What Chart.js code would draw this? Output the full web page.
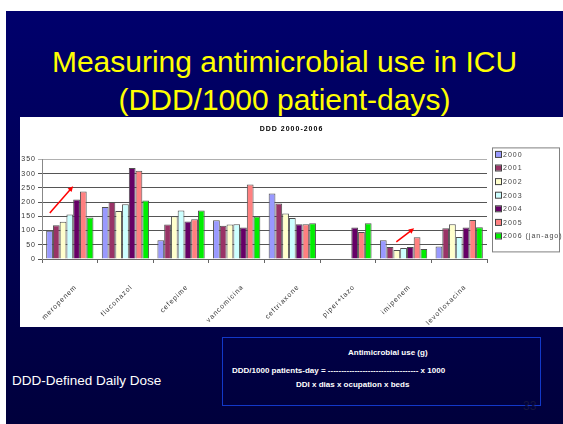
<!DOCTYPE html>
<html>
<head>
<meta charset="utf-8">
<script src="https://cdn.jsdelivr.net/npm/chart.js@4.4.0/dist/chart.umd.min.js"></script>
<style>
  body { margin: 0; width: 563px; height: 424px; background: #fff; overflow: hidden; position: relative; font-family: "Liberation Sans", Arial, sans-serif; }
  .slide { position: absolute; left: 6px; top: 11px; width: 557px; height: 413px; background: linear-gradient(#00006c, #00003c); }
  .title { position: absolute; left: 6px; width: 557px; text-align: center; color: #ffff00; font-size: 30px; line-height: 38px; }
  .panel { position: absolute; left: 20px; top: 117px; width: 543px; height: 210px; background: #fff; }
  .note { position: absolute; left: 12px; top: 373px; color: #fff; font-size: 13.5px; }
  .box { position: absolute; left: 222px; top: 337px; width: 317px; height: 67px; border: 1.5px solid #1238c8; color: #fff; font-weight: bold; font-size: 8px; }
  .box div { position: absolute; white-space: nowrap; }
  .page { position: absolute; left: 523px; top: 399px; color: #16163e; font-size: 12px; }
</style>
</head>
<body>
<div class="slide"></div>
<div class="title" style="top:43px">Measuring antimicrobial use in ICU<br>(DDD/1000 patient-days)</div>
<div class="panel"><canvas id="c"></canvas></div>
<div class="note">DDD-Defined Daily Dose</div>
<div class="box">
  <div style="left:125px; top:10px">Antimicrobial use (g)</div>
  <div style="left:9px; top:28px">DDD/1000 patients-day = ---------------------------------- x 1000</div>
  <div style="left:73px; top:42px">DDI x dias x ocupation x beds</div>
</div>
<div class="page">33</div>
<script>
const drugs = ['meropenem', 'fluconazol', 'cefepime', 'vancomicina', 'ceftriaxone', 'piper+tazo', 'imipenem', 'levofloxacina'];
const years = ['2000', '2001', '2002', '2003', '2004', '2005', '2006 (jan-ago)'];
const colors = ['#9999ff', '#993366', '#ffffcc', '#ccffff', '#660066', '#ff8080', '#00ee00'];

const v2000 = [99, 183, 66, 136, 230, null, 66, 44];
const v2001 = [119, 200, 121, 117, 195, null, 42, 108];
const v2002 = [131, 169, 150, 121, 160, null, 32, 122];
const v2003 = [156, 192, 170, 122, 144, null, 39, 77];
const v2004 = [209, 320, 132, 111, 122, 111, 42, 111];
const v2005 = [237, 310, 140, 262, 122, 95, 76, 137];
const v2006 = [146, 206, 170, 149, 126, 126, 35, 112];
const series = [v2000, v2001, v2002, v2003, v2004, v2005, v2006];

const yTicks = [0, 50, 100, 150, 200, 250, 300, 350];

// red arrows: category index, [offset in categories, value] start and end
const arrowCat = [0, 6];
const arrowFrom = [[-0.36, 162], [-0.13, 60]];
const arrowTo = [[0.06, 256], [0.19, 108]];

const spacing = {
  id: 'spacing',
  beforeDraw(chart) { chart.ctx.letterSpacing = '1px'; }
};

const arrows = {
  id: 'arrows',
  afterDatasetsDraw(chart) {
    const ctx = chart.ctx, xs = chart.scales.x, ys = chart.scales.y;
    const w = xs.width / drugs.length;
    ctx.save();
    ctx.strokeStyle = '#ff0000';
    ctx.fillStyle = '#ff0000';
    ctx.lineWidth = 1.5;
    arrowCat.forEach((c, i) => {
      const cx = xs.getPixelForValue(c);
      const x0 = cx + arrowFrom[i][0] * w, y0 = ys.getPixelForValue(arrowFrom[i][1]);
      const x1 = cx + arrowTo[i][0] * w, y1 = ys.getPixelForValue(arrowTo[i][1]);
      const a = Math.atan2(y1 - y0, x1 - x0);
      ctx.beginPath();
      ctx.moveTo(x0, y0);
      ctx.lineTo(x1 - 3 * Math.cos(a), y1 - 3 * Math.sin(a));
      ctx.stroke();
      ctx.beginPath();
      ctx.moveTo(x1, y1);
      ctx.lineTo(x1 - 6 * Math.cos(a - 0.45), y1 - 6 * Math.sin(a - 0.45));
      ctx.lineTo(x1 - 6 * Math.cos(a + 0.45), y1 - 6 * Math.sin(a + 0.45));
      ctx.closePath();
      ctx.fill();
    });
    ctx.restore();
  }
};

// framed legend in the right margin, built from the datasets
const sideLegend = {
  id: 'sideLegend',
  afterDraw(chart) {
    const ctx = chart.ctx;
    const left = chart.chartArea.right + 5;
    const top = chart.chartArea.top - 12;
    ctx.save();
    ctx.letterSpacing = '1px';
    ctx.strokeStyle = '#808080';
    ctx.lineWidth = 1;
    ctx.strokeRect(left + 0.5, top + 0.5, 67, 104);
    ctx.font = '7px "Liberation Sans"';
    ctx.textBaseline = 'middle';
    chart.data.datasets.forEach((ds, i) => {
      const y = top + 7 + i * 13.6;
      ctx.fillStyle = ds.backgroundColor;
      ctx.fillRect(left + 4, y - 2.5, 5, 5);
      ctx.strokeStyle = '#404040';
      ctx.strokeRect(left + 3.5, y - 3, 6, 6);
      ctx.fillStyle = '#444';
      ctx.fillText(ds.label, left + 11, y + 0.5);
    });
    ctx.restore();
  }
};

new Chart(document.getElementById('c'), {
  type: 'bar',
  data: {
    labels: drugs,
    datasets: series.map((d, i) => ({
      label: years[i],
      data: d,
      backgroundColor: colors[i],
      borderColor: '#505050',
      borderWidth: 1,
      barPercentage: 1,
      categoryPercentage: 0.85
    }))
  },
  options: {
    responsive: true,
    maintainAspectRatio: false,
    animation: false,
    plugins: {
      title: {
        display: true,
        text: 'DDD 2000-2006',
        color: '#000',
        font: { family: 'Liberation Sans', size: 7, weight: 'bold' },
        padding: { top: 8, bottom: 26 }
      },
      legend: { display: false },
      tooltip: { enabled: false }
    },
    scales: {
      x: {
        grid: { drawOnChartArea: false, drawTicks: true, tickLength: 4, color: '#666' },
        border: { color: '#666' },
        ticks: {
          color: '#333',
          font: { family: 'Liberation Sans', size: 7 },
          minRotation: 45,
          maxRotation: 45,
          padding: 20,
          labelOffset: 6
        },
        afterFit(scale) { scale.height = 68; }
      },
      y: {
        min: 0,
        max: 350,
        afterBuildTicks(scale) { scale.ticks = yTicks.map(v => ({ value: v })); },
        grid: {
          color: c => c.tick && c.tick.value === 350 ? '#b0b0b0' : '#555',
          tickLength: 4
        },
        border: { color: '#888' },
        ticks: {
          color: '#333',
          font: { family: 'Liberation Sans', size: 7 },
          padding: 2
        },
        afterFit(scale) { scale.width = 22; }
      },
      // empty right axis that keeps room for the legend
      side: {
        position: 'right',
        grid: { display: false },
        border: { display: false },
        ticks: { display: false },
        afterFit(scale) { scale.width = 76; }
      }
    }
  },
  plugins: [spacing, arrows, sideLegend]
});
</script>
</body>
</html>
